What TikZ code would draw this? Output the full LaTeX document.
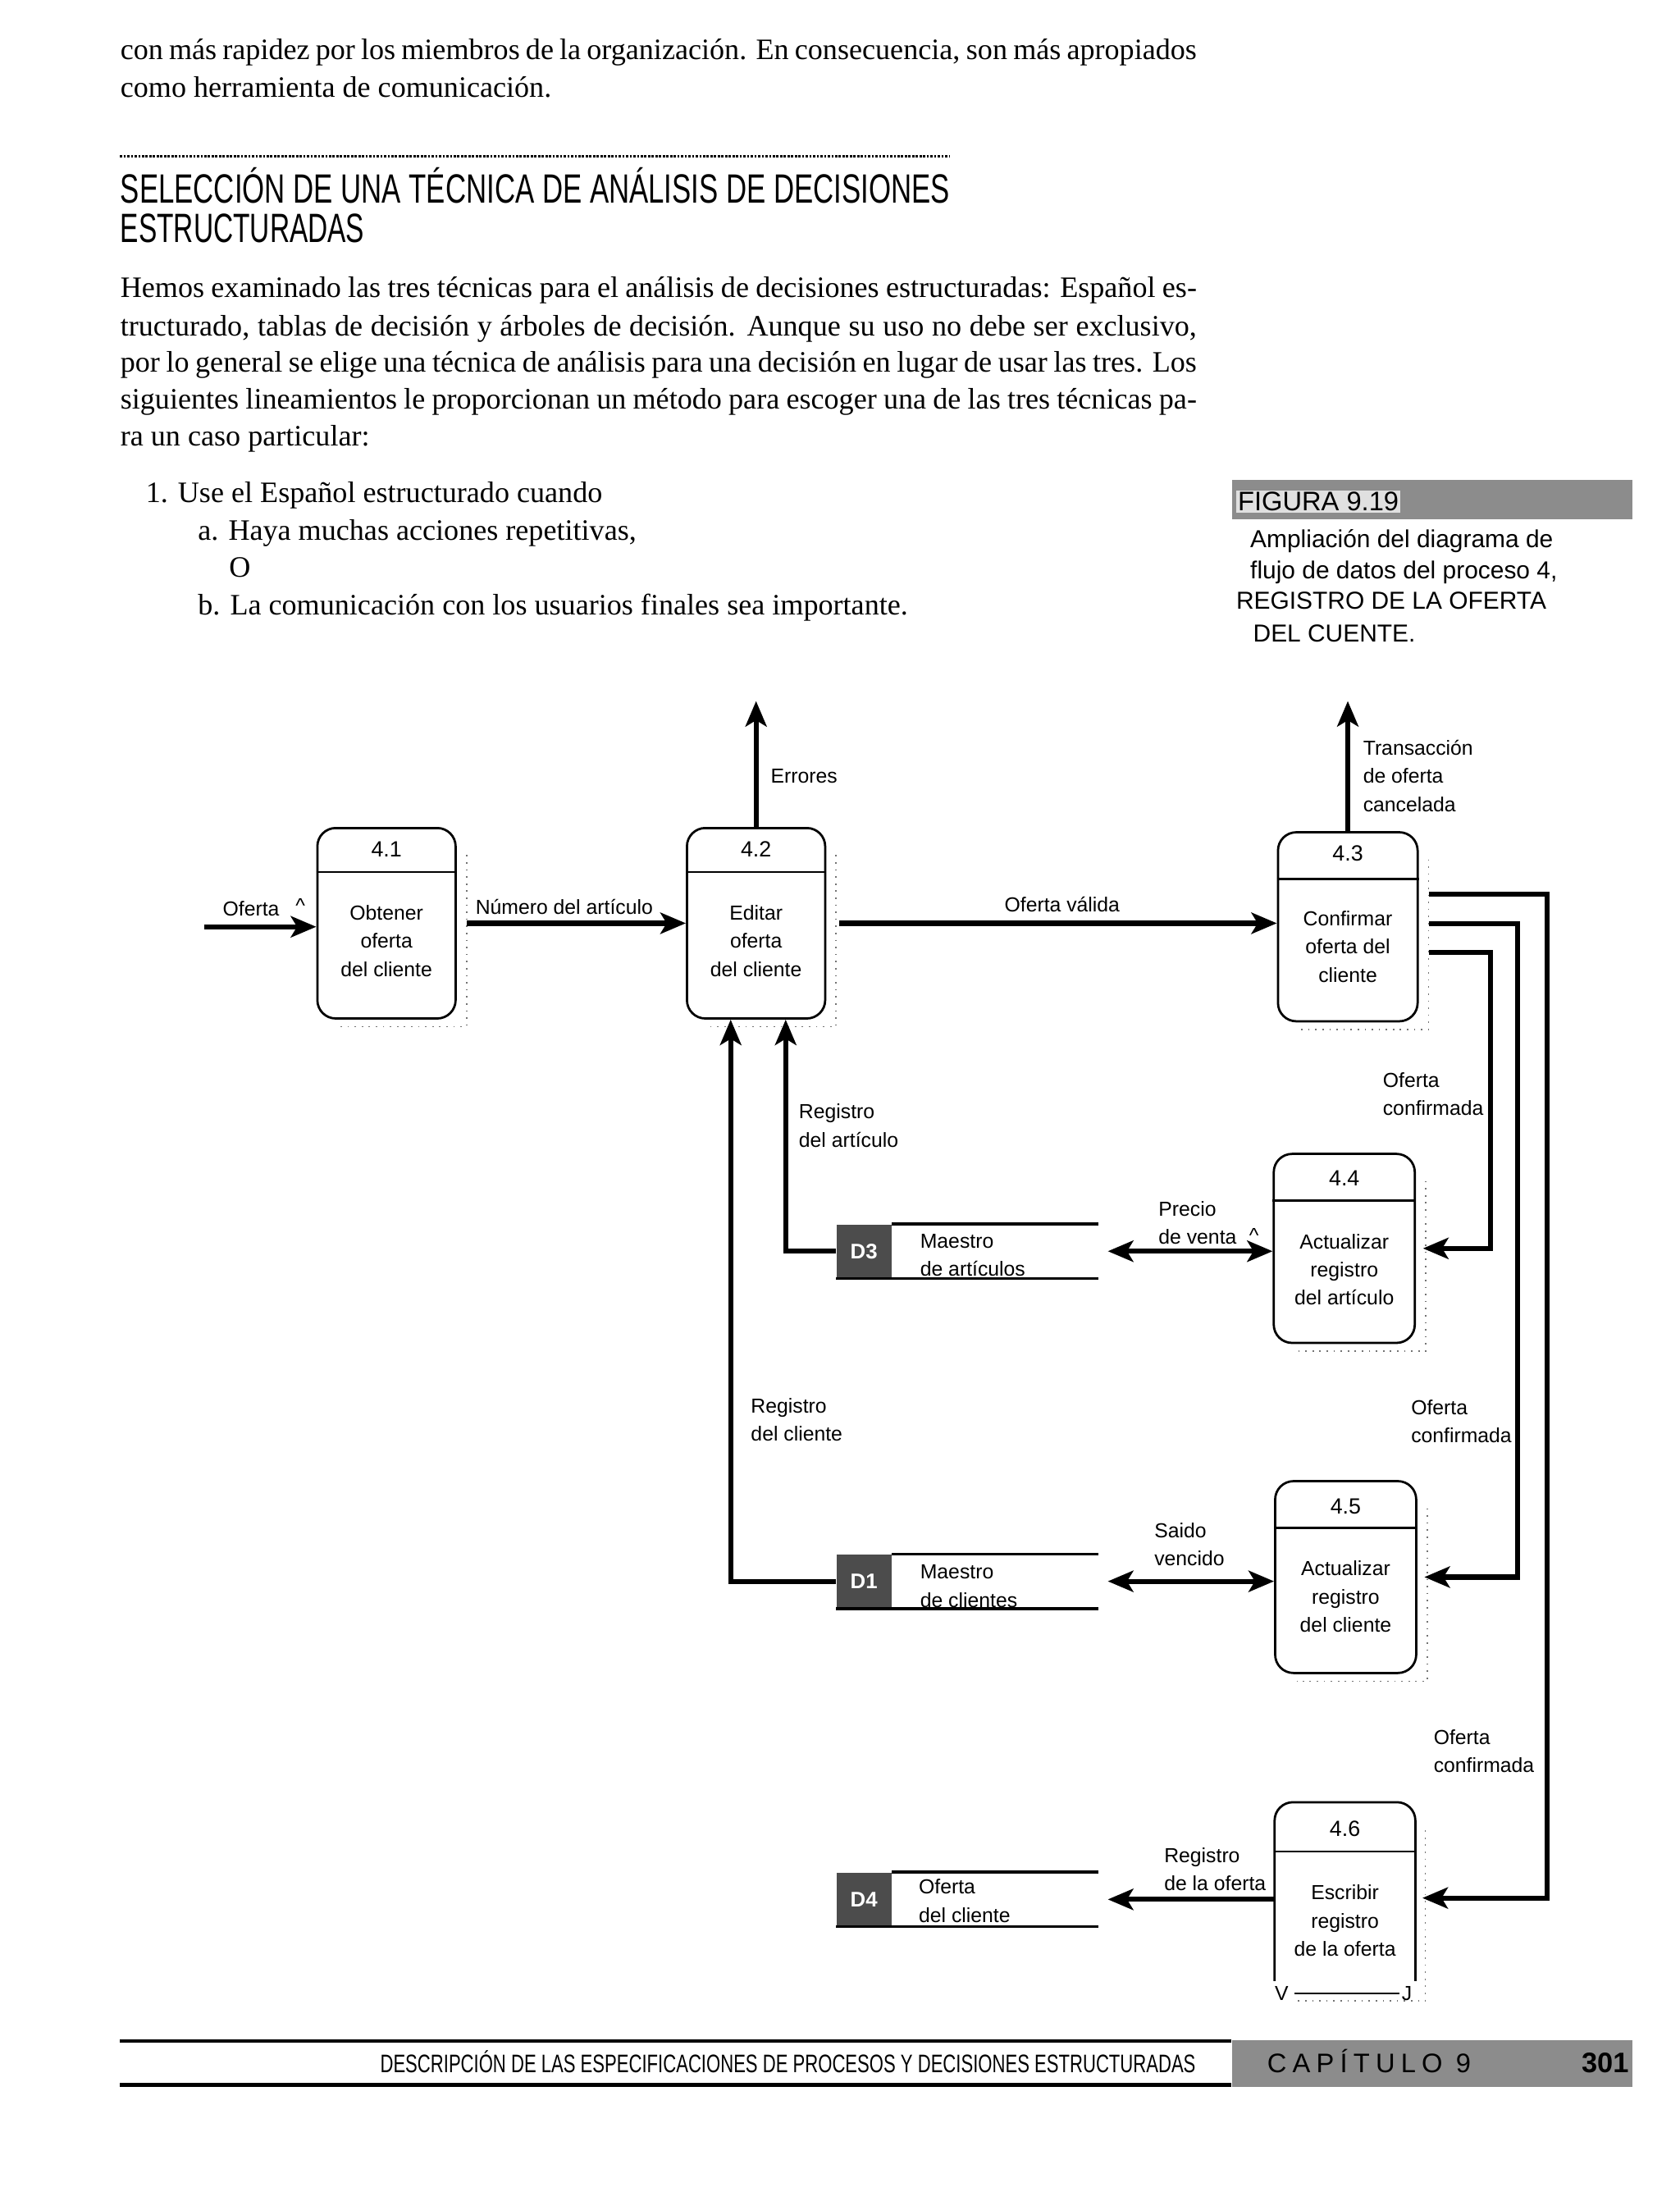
\documentclass[tikz,border=0pt]{standalone}
\usepackage{fontspec}
\setmainfont{Liberation Serif}
\setsansfont{Liberation Sans}
\usepackage{graphicx}
\usetikzlibrary{arrows.meta,calc}
\newcommand{\lblfont}{\fontsize{7.2}{10}\selectfont\sffamily}
\newcommand{\numfont}{\fontsize{7.8}{10}\selectfont\sffamily}
\newcommand{\idfont}{\fontsize{7.5}{8}\selectfont\sffamily\bfseries}
\newcommand{\bodyfont}{\fontsize{10.5}{13}\selectfont\rmfamily}
\newcommand{\capfont}{\fontsize{8.7}{11}\selectfont\sffamily}
\newcommand{\jline}[1]{\makebox[381.5pt][s]{#1}}
\newcommand{\boxshadow}[1]{\draw[shadowdots] ([xshift=3.5pt,yshift=-10pt]#1.north east) -- ([xshift=3.5pt,yshift=-2.5pt]#1.south east) -- ([xshift=8pt,yshift=-2.5pt]#1.south west);}
\begin{document}
\begin{tikzpicture}[x=0.5pt,y=-0.5pt,
  proc/.style={draw, line width=0.8pt, rounded corners=6.5pt, inner sep=0pt},
  hdr/.style={line width=0.8pt},
  shadowdots/.style={line width=0.5pt, dotted, black!55},
  flow/.style={line width=1.8pt, line join=miter, -{Stealth[length=9pt,width=7.5pt,inset=2.2pt]}},
  flowboth/.style={line width=1.8pt, {Stealth[length=9pt,width=7.5pt,inset=2.2pt]}-{Stealth[length=9pt,width=7.5pt,inset=2.2pt]}},
  lbl/.style={font=\lblfont, align=left, inner sep=0pt},
  ctr/.style={font=\lblfont, align=center, inner sep=0pt},
  num/.style={font=\numfont, inner sep=0pt},
  storeline/.style={line width=1pt},
  storeid/.style={fill=black!70, text=white, font=\idfont, inner sep=0pt, minimum width=19.5pt, minimum height=19pt, anchor=west},
  store/.style={minimum width=92.5pt, minimum height=19pt, inner sep=0pt},
  body/.style={anchor=base west, inner sep=0pt, font=\bodyfont},
  captxt/.style={anchor=base west, inner sep=0pt, font=\capfont},
]
\useasboundingbox[fill=white] (0,0) rectangle (1191,1566.7);

% ---------- page text ----------
\node[body] (t1) at (85,42) {\jline{con más rapidez por los miembros de la organización. En consecuencia, son más apropiados}};
\node[body] (t2) at (85,69) {como herramienta de comunicación.};

\draw[line width=0.8pt, dash pattern=on 0.8pt off 0.5pt] (85,111) -- (673,111);
\node[anchor=base west, inner sep=0pt] (h1) at (85,144) {\resizebox{294pt}{\height}{\fontsize{14.5}{15}\selectfont\sffamily SELECCIÓN DE UNA TÉCNICA DE ANÁLISIS DE DECISIONES}};
\node[anchor=base west, inner sep=0pt] (h2) at (85,172) {\resizebox{86.5pt}{\height}{\fontsize{14.5}{15}\selectfont\sffamily ESTRUCTURADAS}};

\node[body] (p1) at (85,211) {\jline{Hemos examinado las tres técnicas para el análisis de decisiones estructuradas: Español es-}};
\node[body] (p2) at (85,238) {\jline{tructurado, tablas de decisión y árboles de decisión. Aunque su uso no debe ser exclusivo,}};
\node[body] (p3) at (85,264) {\jline{por lo general se elige una técnica de análisis para una decisión en lugar de usar las tres. Los}};
\node[body] (p4) at (85,290) {\jline{siguientes lineamientos le proporcionan un método para escoger una de las tres técnicas pa-}};
\node[body] (p5) at (85,316) {ra un caso particular:};

\node[body] (l1) at (103,356) {1. Use el Español estructurado cuando};
\node[body] (l2) at (140,383) {a. Haya muchas acciones repetitivas,};
\node[body] (l3) at (162,409) {O};
\node[body] (l4) at (140,436) {b. La comunicación con los usuarios finales sea importante.};

% ---------- caption ----------
\node[fill=black!45, minimum width=142pt, minimum height=14pt, inner sep=0pt, anchor=north west] (figbar) at (873,340) {};
\node[anchor=base west, inner sep=0.6pt, fill=black!12, font=\fontsize{9.5}{10}\selectfont\sffamily] (figlbl) at (876,362) {FIGURA 9.19};
\node[captxt] (c1) at (886,388) {Ampliación del diagrama de};
\node[captxt] (c2) at (886,410) {flujo de datos del proceso 4,};
\node[captxt] (c3) at (876,432) {REGISTRO DE LA OFERTA};
\node[captxt] (c4) at (888,455) {DEL CUENTE.};

% ---------- processes ----------
\node[proc, minimum width=49pt, minimum height=67.5pt] (p41) at (274,654.5) {};
\draw[hdr] ([yshift=-16pt]p41.north west) -- ([yshift=-16pt]p41.north east);
\node[num] (n41) at ([yshift=-8pt]p41.north) {4.1};
\node[ctr] (b41) at ([yshift=-6.25pt]p41.center) {Obtener\\oferta\\del cliente};
\boxshadow{p41}

\node[proc, minimum width=49pt, minimum height=67.5pt] (p42) at (536,654.5) {};
\draw[hdr] ([yshift=-16pt]p42.north west) -- ([yshift=-16pt]p42.north east);
\node[num] (n42) at ([yshift=-8pt]p42.north) {4.2};
\node[ctr] (b42) at ([yshift=-6.25pt]p42.center) {Editar\\oferta\\del cliente};
\boxshadow{p42}

\node[proc, minimum width=49.5pt, minimum height=67pt] (p43) at (955.5,657) {};
\draw[hdr] ([yshift=-17pt]p43.north west) -- ([yshift=-17pt]p43.north east);
\node[num] (n43) at ([yshift=-8pt]p43.north) {4.3};
\node[ctr] (b43) at ([yshift=-7pt]p43.center) {Confirmar\\oferta del\\cliente};
\boxshadow{p43}

\node[proc, minimum width=50pt, minimum height=67pt] (p44) at (953,885) {};
\draw[hdr] ([yshift=-17pt]p44.north west) -- ([yshift=-17pt]p44.north east);
\node[num] (n44) at ([yshift=-9pt]p44.north) {4.4};
\node[ctr] (b44) at ([yshift=-7.5pt]p44.center) {Actualizar\\registro\\del artículo};
\boxshadow{p44}

\node[proc, minimum width=50pt, minimum height=68pt] (p45) at (954,1118) {};
\draw[hdr] ([yshift=-17pt]p45.north west) -- ([yshift=-17pt]p45.north east);
\node[num] (n45) at ([yshift=-9.5pt]p45.north) {4.5};
\node[ctr] (b45) at ([yshift=-7pt]p45.center) {Actualizar\\registro\\del cliente};
\boxshadow{p45}

\node[minimum width=49.5pt, minimum height=67.5pt, inner sep=0pt] (p46) at (953.5,1345.5) {};
\draw[line width=0.8pt, rounded corners=6.5pt] ([yshift=4.5pt]p46.south west) |- (p46.north) -| ([yshift=4.5pt]p46.south east);
\draw[hdr] ([yshift=-17.5pt]p46.north west) -- ([yshift=-17.5pt]p46.north east);
\node[num] (n46) at ([yshift=-9.5pt]p46.north) {4.6};
\node[ctr] (b46) at ([yshift=-8pt]p46.center) {Escribir\\registro\\de la oferta};
\draw[line width=0.6pt] ([xshift=7pt]p46.south west) -- ([xshift=-5.5pt]p46.south east);
\node[ctr] (v46) at ([xshift=2.5pt]p46.south west) {V};
\node[ctr] (j46) at ([xshift=-3pt]p46.south east) {J};
\boxshadow{p46}

% ---------- data stores ----------
\node[store] (d3) at (685.5,887) {};
\node[storeid] (d3id) at (d3.west) {D3};
\draw[storeline] (d3id.north east) -- (d3.north east);
\draw[storeline] (d3.south west) -- (d3.south east);
\node[lbl, anchor=west] (d3t) at (652,890) {Maestro\\de artículos};

\node[store] (d1) at (685.5,1121) {};
\node[storeid] (d1id) at (d1.west) {D1};
\draw[storeline] (d1id.north east) -- (d1.north east);
\draw[storeline] (d1.south west) -- (d1.south east);
\node[lbl, anchor=west] (d1t) at (652,1124.5) {Maestro\\de clientes};

\node[store] (d4) at (685.5,1346.5) {};
\node[storeid] (d4id) at (d4.west) {D4};
\draw[storeline] (d4id.north east) -- (d4.north east);
\draw[storeline] (d4.south west) -- (d4.south east);
\node[lbl, anchor=west] (d4t) at (651,1347.5) {Oferta\\del cliente};

% ---------- flows ----------
\coordinate (ofin) at (145,657);
\draw[flow] (ofin) -- (ofin -| p41.west);
\node[lbl] (lof) at (178,644) {Oferta};
\node[lbl] (lofc) at (213,642) {\^{}};

\draw[flow, shorten <=3.5pt] (p41.east) -- (p42.west);
\node[lbl] (lnum) at (400,643) {Número del artículo};

\coordinate (errout) at (536,497);
\draw[flow] (p42.north) -- (errout);
\node[lbl, anchor=west] (lerr) at (546,550) {Errores};

\draw[flow, shorten <=4.5pt] (p42.east) -- (p42.east -| p43.west);
\node[lbl] (lval) at (753,641) {Oferta válida};

\coordinate (tranout) at (955.5,497);
\draw[flow] (p43.north) -- (tranout);
\node[lbl, anchor=west] (ltra) at (966,550) {Transacción\\de oferta\\cancelada};

\draw[flow] ([xshift=3.5pt,yshift=11.5pt]p43.east) -- ++(84,0) |- ([xshift=2.5pt]p46.east);
\draw[flow] ([xshift=3.5pt,yshift=1pt]p43.east) -- ++(63,0) |- ([xshift=2.5pt]p45.east);
\draw[flow] ([xshift=3.5pt,yshift=-9pt]p43.east) -- ++(44,0) |- ([xshift=2.5pt]p44.east);
\node[lbl, anchor=west] (lc1) at (980,775.5) {Oferta\\confirmada};
\node[lbl, anchor=west] (lc2) at (1000,1007.5) {Oferta\\confirmada};
\node[lbl, anchor=west] (lc3) at (1016,1241.5) {Oferta\\confirmada};

\draw[flow] (d3id.west) -| ([xshift=10.5pt]p42.south);
\node[lbl, anchor=west] (lra) at (566,798) {Registro\\del artículo};

\draw[flow] (d1id.west) -| ([xshift=-9pt]p42.south);
\node[lbl, anchor=west] (lrc) at (532,1006.5) {Registro\\del cliente};

\draw[flowboth, shorten <=3.5pt] (d3.east) -- (d3.east -| p44.west);
\node[lbl, anchor=west] (lpv) at (821,867) {Precio\\de venta};
\node[lbl] (lpvc) at (889,876) {\^{}};

\draw[flowboth, shorten <=3.5pt] (d1.east) -- (d1.east -| p45.west);
\node[lbl, anchor=west] (lsv) at (818,1095) {Saido\\vencido};

\draw[flow, shorten >=3.5pt] (d4.east -| p46.west) -- (d4.east);
\node[lbl, anchor=west] (lro) at (825,1325) {Registro\\de la oferta};

% ---------- footer ----------
\draw[line width=1.3pt] (85,1447) -- (873,1447);
\draw[line width=1.3pt] (85,1478) -- (873,1478);
\node[anchor=base east, inner sep=0pt] (ftxt) at (848,1469) {\resizebox{289pt}{\height}{\fontsize{9}{10}\selectfont\sffamily DESCRIPCIÓN DE LAS ESPECIFICACIONES DE PROCESOS Y DECISIONES ESTRUCTURADAS}};
\node[fill=black!45, minimum width=142pt, minimum height=16.5pt, inner sep=0pt, anchor=north west] (fbar) at (873,1446) {};
\node[anchor=base west, inner sep=0pt, font=\fontsize{9.5}{10}\selectfont\sffamily\addfontfeature{LetterSpace=22}] (fcap) at (898,1469) {CAPÍTULO 9};
\node[anchor=base east, inner sep=0pt, font=\fontsize{10}{10}\selectfont\sffamily\bfseries] (fpg) at (1155,1469) {301};
\end{tikzpicture}
\end{document}
